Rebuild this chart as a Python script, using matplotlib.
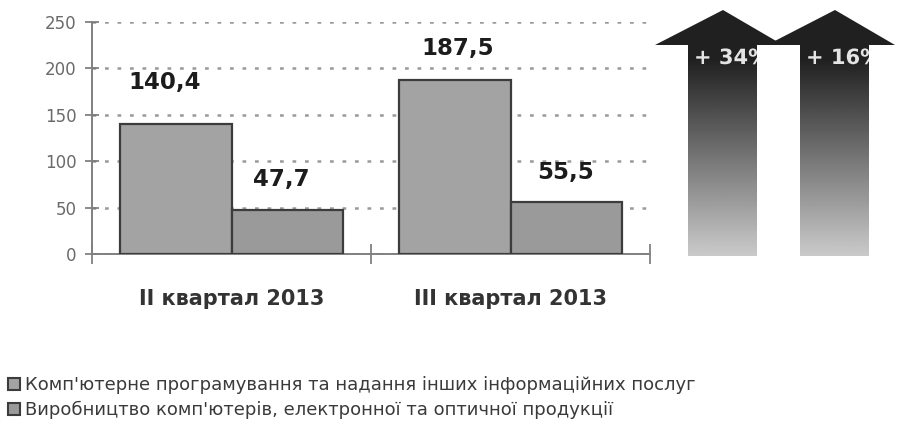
import matplotlib.pyplot as plt
import numpy as np
from matplotlib.patches import Polygon, Patch, PathPatch
from matplotlib.textpath import TextPath
from matplotlib.font_manager import FontProperties
from matplotlib.transforms import Affine2D

plt.rcParams['font.family'] = ['DejaVu Sans']

# дані, млрд грн
kvartaly = ["II квартал 2013", "III квартал 2013"]
programuvannia = [140.4, 187.5]
vyrobnytstvo = [47.7, 55.5]
legenda = ["Комп'ютерне програмування та надання інших інформаційних послуг",
           "Виробництво комп'ютерів, електронної та оптичної продукції"]

W, H = 897, 432
fig = plt.figure(figsize=(W / 100, H / 100), dpi=100)

# основна діаграма
ax = fig.add_axes([92 / W, 1 - 254 / H, (650 - 92) / W, (254 - 22) / H])
ax.set_xlim(0, 2)
ax.set_ylim(0, 250)

x = np.arange(len(kvartaly)) + 0.5
w = 0.4
b1 = ax.bar(x - w / 2, programuvannia, w, color="#a3a3a3", edgecolor="#3c3c3c", linewidth=1.6, zorder=3)
b2 = ax.bar(x + w / 2, vyrobnytstvo, w, color="#9a9a9a", edgecolor="#3c3c3c", linewidth=1.6, zorder=3)

# зсуви підписів над стовпчиками, px
zsuv1 = [(-11, 41), (3, 31)]
zsuv2 = [(-6, 30), (-1, 30)]
for bars, zs in ((b1, zsuv1), (b2, zsuv2)):
    for r, (dx, dy) in zip(bars, zs):
        v = r.get_height()
        ax.annotate(("%.1f" % v).replace(".", ","), (r.get_x() + r.get_width() / 2, v),
                    xytext=(dx, dy), textcoords="offset pixels", ha="center", va="center",
                    fontsize=16.5, fontweight="bold", color="#1c1c1c", zorder=5)

ax.set_yticks(range(0, 251, 50))
ax.set_xticks([0, 1, 2])
ax.set_xticklabels([])
ax.tick_params(axis="y", direction="inout", length=10, width=1.2, color="#777777",
               labelsize=12, labelcolor="#6a6a6a", pad=6)
ax.tick_params(axis="x", direction="inout", length=14, width=1.2, color="#777777")
for s in ("top", "right"):
    ax.spines[s].set_visible(False)
for s in ("left", "bottom"):
    ax.spines[s].set_color("#808080")
    ax.spines[s].set_linewidth(1.4)
ax.yaxis.grid(True, linestyle=(0, (1.5, 3.5)), color="#9a9a9a", linewidth=1.8, zorder=0)
ax.set_axisbelow(True)

for xi, name in zip(x, kvartaly):
    ax.text(xi, -48, name, ha="center", va="center", fontsize=15, fontweight="bold",
            color="#333333")

# стрілки приросту (координати в пікселях)
ov = fig.add_axes([0, 0, 1, 1])
ov.set_xlim(0, W)
ov.set_ylim(H, 0)
ov.axis("off")

yy = np.linspace(10, 256, 256)
grad = np.clip((yy - 60) / (255 - 60), 0, 1)[:, None]
shades = 0.13 + grad * (0.79 - 0.13)

pochatok = [programuvannia[0], vyrobnytstvo[0]]
kinets = [programuvannia[1], vyrobnytstvo[1]]
pririst = [round((b / a - 1) * 100) for a, b in zip(pochatok, kinets)]
fp = FontProperties(family="DejaVu Sans", weight="bold")
for cx, p in zip([723, 835], pririst):
    pts = [(cx - 68, 45), (cx, 10), (cx + 60, 45), (cx + 34, 45), (cx + 34, 256),
           (cx - 35, 256), (cx - 35, 45)]
    poly = Polygon(pts, closed=True, facecolor="none", edgecolor="none")
    ov.add_patch(poly)
    im = ov.imshow(shades, cmap="gray", vmin=0, vmax=1, extent=[cx - 75, cx + 65, 256, 10],
                   aspect="auto", zorder=2)
    im.set_clip_path(poly)
    # текст як контур, щоб обрізати його по стрілці
    tp = TextPath((0, 0), "+ %d%%" % p, size=21, prop=fp)
    tr = Affine2D().scale(1, -1).translate(cx - 29, 64) + ov.transData
    pp = PathPatch(tp, transform=tr, facecolor="#e4e4e4", edgecolor="none", zorder=3)
    ov.add_patch(pp)
    pp.set_clip_path(poly)

# легенда
hand = [Patch(facecolor="#a3a3a3", edgecolor="#3c3c3c", linewidth=1.5),
        Patch(facecolor="#9a9a9a", edgecolor="#3c3c3c", linewidth=1.5)]
fig.legend(hand, legenda, loc="upper left", bbox_to_anchor=(3 / W, 1 - 371 / H), frameon=False,
           fontsize=13, handlelength=0.65, handleheight=0.65, handletextpad=0.25, labelspacing=0.35,
           labelcolor="#3a3a3a", borderpad=0, borderaxespad=0.3)

fig.savefig("out.png", dpi=100)
